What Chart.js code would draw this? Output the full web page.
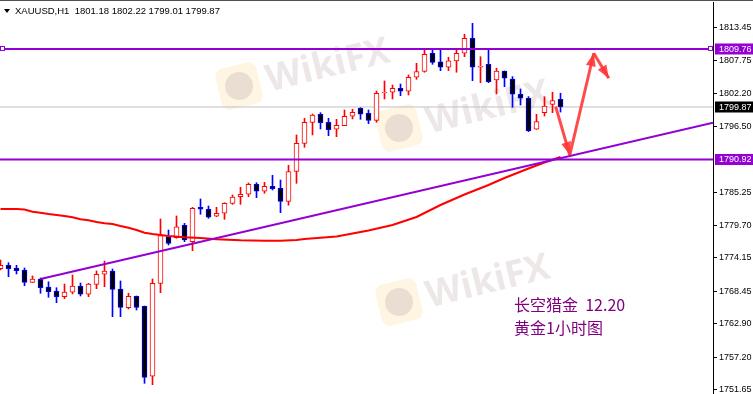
<!DOCTYPE html>
<html>
<head>
<meta charset="utf-8">
<script src="https://cdn.jsdelivr.net/npm/chart.js@4.4.0/dist/chart.umd.min.js"></script>
<style>
  body { margin:0; background:#fff; }
  canvas { display:block; }
</style>
</head>
<body>
<canvas id="grafico" width="753" height="394"></canvas>
<script>
// velas H1 XAUUSD
var opens  = [1772.30,1772.88,1772.42,1772.08,1769.98,1770.55,1769.18,1768.50,1767.53,1768.28,
              1769.35,1767.94,1769.64,1771.35,1771.91,1768.84,1765.65,1767.60,1765.89,1754.00,
              1769.81,1777.76,1777.59,1779.70,1776.91,1782.77,1782.43,1781.24,1781.75,1783.45,
              1784.58,1784.99,1786.69,1785.50,1786.35,1786.01,1783.79,1788.87,1793.68,1797.26,
              1798.63,1797.26,1796.07,1796.68,1798.29,1799.65,1798.80,1797.60,1802.26,1802.38,
              1803.06,1802.55,1804.94,1805.92,1809.03,1807.59,1806.64,1807.72,1809.03,1811.58,
              1806.64,1807.15,1804.48,1806.01,1804.65,1802.04,1801.36,1796.07,1798.90,1800.33,
              1801.18];
var highs  = [1773.79,1773.33,1772.88,1772.42,1771.06,1770.72,1770.08,1769.06,1769.69,1771.23,
              1769.86,1769.81,1771.91,1773.61,1772.25,1770.21,1768.11,1767.65,1765.94,1770.55,
              1780.78,1778.90,1781.29,1780.04,1782.77,1784.19,1782.99,1782.77,1783.55,1784.87,
              1786.18,1786.91,1786.96,1787.03,1788.23,1787.42,1789.93,1795.10,1797.95,1798.68,
              1798.90,1797.95,1797.77,1799.36,1799.48,1799.75,1799.36,1802.60,1804.31,1803.62,
              1803.79,1805.33,1807.32,1809.68,1809.59,1809.71,1808.35,1809.71,1812.27,1814.14,
              1808.45,1809.71,1806.47,1806.01,1805.04,1802.94,1801.63,1798.63,1801.63,1802.38,
              1802.22];
var lows   = [1772.08,1770.94,1771.40,1769.40,1769.95,1768.11,1767.43,1766.51,1767.19,1768.00,
              1767.65,1767.53,1768.89,1769.23,1764.12,1764.12,1765.43,1765.26,1752.76,1752.52,
              1768.21,1776.34,1777.49,1776.91,1775.37,1781.58,1780.89,1781.17,1780.72,1783.28,
              1783.28,1784.58,1784.41,1785.16,1785.72,1781.85,1783.12,1786.86,1793.00,1795.10,
              1796.12,1794.98,1794.81,1796.68,1797.83,1797.77,1797.02,1797.26,1801.24,1801.24,
              1801.80,1801.92,1804.59,1805.79,1807.15,1806.06,1806.06,1805.79,1808.45,1804.36,
              1804.02,1804.02,1802.09,1803.33,1799.82,1800.21,1795.66,1796.07,1798.34,1798.90,
              1799.01];
var closes = [1772.88,1772.30,1771.96,1769.98,1770.55,1769.06,1768.38,1767.53,1768.33,1769.35,
              1767.94,1769.69,1771.35,1771.91,1768.79,1765.72,1767.60,1765.72,1753.78,1769.81,
              1777.93,1776.63,1779.46,1777.20,1782.60,1782.43,1781.07,1781.75,1783.45,1784.53,
              1784.99,1786.69,1785.50,1786.35,1785.94,1783.79,1788.87,1793.68,1797.26,1798.51,
              1797.19,1796.00,1796.75,1798.29,1798.97,1798.63,1797.60,1802.21,1802.43,1803.06,
              1802.55,1804.94,1805.92,1808.86,1807.49,1806.64,1807.72,1809.03,1811.58,1806.64,
              1806.74,1804.19,1806.01,1804.77,1802.04,1801.36,1795.83,1797.37,1800.04,1800.95,
              1799.87];

// media movil (indice de vela, precio)
var maX = [0,2,3,4,5,6,7,8,9,10,11,12,13,14,15,16,17,18,19,20,21,23,25,27,30,33,35,37,38,42,46,49,52,55,58,61,63,66,68,70];
var maY = [1782.48,1782.48,1782.40,1782.02,1781.85,1781.63,1781.46,1781.29,1781.07,1780.72,
           1780.55,1780.26,1780.04,1779.92,1779.58,1779.29,1778.90,1778.44,1778.22,1778.05,
           1777.88,1777.66,1777.54,1777.32,1777.14,1777.08,1777.08,1777.20,1777.37,1777.79,
           1778.82,1779.75,1781.12,1783.16,1784.95,1786.57,1787.77,1789.39,1790.41,1791.35];

var yTicks = [1813.45,1807.75,1802.20,1796.50,1785.25,1779.70,1774.15,1768.45,1762.90,1757.20,1751.65];
var niveles = [1809.76, 1790.92];
var ultimoPrecio = 1799.87;
var tendencia = [{x:5, y:1770.55}, {x:89.0625, y:1797.19}];
var flechas = [{x:69.4, y:1799.92}, {x:71.16, y:1791.69}, {x:74.16, y:1809.03}, {x:76.04, y:1804.77}];
var titulo = "XAUUSD,H1  1801.18 1802.22 1799.01 1799.87";
var nota1 = "长空猎金  12.20";
var nota2 = "黄金1小时图";

var xMin = -0.0625, xMax = 89.0625;
var yMin = 1750.94, yMax = 1817.77;

var ROJO = "#ff0000", AZUL = "#0000ff", VIOLETA = "#9400d3";

var cuerpos = [], mechas = [], fondo = [], borde = [], colMecha = [];
for (var i = 0; i < opens.length; i++) {
    var alcista = closes[i] >= opens[i];
    cuerpos.push({x:i, y:[opens[i], closes[i]]});
    mechas.push({x:i, y:[lows[i], highs[i]]});
    fondo.push(alcista ? "#ffffff" : "#000000");
    borde.push(alcista ? ROJO : AZUL);
    colMecha.push(alcista ? ROJO : AZUL);
}
var media = maX.map(function(x, k){ return {x:x, y:maY[k]}; });

function lineaH(v){ return [{x:xMin, y:v}, {x:xMax, y:v}]; }

function marcaAgua(ctx, x, y){
    ctx.save();
    ctx.translate(x, y);
    ctx.rotate(-0.24);
    ctx.fillStyle = "rgba(252,226,176,0.35)";
    ctx.beginPath();
    ctx.roundRect(-21, -21, 42, 42, 8);
    ctx.fill();
    ctx.fillStyle = "rgba(205,185,185,0.40)";
    ctx.beginPath();
    ctx.arc(0, 0, 14, 0, Math.PI*2);
    ctx.fill();
    ctx.fillStyle = "rgba(190,165,165,0.27)";
    ctx.font = "bold 37px 'Open Sans'";
    ctx.textBaseline = "middle";
    ctx.fillText("WikiFX", 28, 2);
    ctx.restore();
}

function etiqueta(ctx, y, texto, color){
    ctx.fillStyle = color;
    ctx.fillRect(715, y - 5.5, 38, 11);
    ctx.fillStyle = "#ffffff";
    ctx.font = "9px 'Liberation Sans'";
    ctx.textBaseline = "middle";
    ctx.fillText(texto, 719, y + 0.5);
}

function punta(ctx, a, b){
    var ang = Math.atan2(b.y - a.y, b.x - a.x);
    ctx.beginPath();
    ctx.moveTo(b.x, b.y);
    ctx.lineTo(b.x - 13*Math.cos(ang) + 5*Math.sin(ang), b.y - 13*Math.sin(ang) - 5*Math.cos(ang));
    ctx.lineTo(b.x - 13*Math.cos(ang) - 5*Math.sin(ang), b.y - 13*Math.sin(ang) + 5*Math.cos(ang));
    ctx.closePath();
    ctx.fill();
}

var extras = {
    id: "extras",
    beforeDatasetsDraw: function(chart){
        var ctx = chart.ctx;
        marcaAgua(ctx, 239, 86);
        marcaAgua(ctx, 399, 128);
        marcaAgua(ctx, 399, 302);
    },
    afterDatasetsDraw: function(chart){
        var ctx = chart.ctx, xs = chart.scales.x, ys = chart.scales.y;
        var p = flechas.map(function(f){ return {x:xs.getPixelForValue(f.x), y:ys.getPixelForValue(f.y)}; });
        ctx.save();
        ctx.strokeStyle = "rgba(255,55,55,0.9)";
        ctx.fillStyle = "rgba(255,55,55,0.9)";
        ctx.lineWidth = 3;
        for (var k = 0; k < p.length - 1; k++) {
            ctx.beginPath();
            ctx.moveTo(p[k].x, p[k].y);
            ctx.lineTo(p[k+1].x, p[k+1].y);
            ctx.stroke();
            punta(ctx, p[k], p[k+1]);
        }
        // cuadritos del objeto seleccionado
        var yl = ys.getPixelForValue(niveles[0]);
        ctx.strokeStyle = VIOLETA;
        ctx.lineWidth = 1;
        ctx.fillStyle = "#ffffff";
        ctx.fillRect(0.5, yl - 2.5, 4, 4);
        ctx.strokeRect(0.5, yl - 2.5, 4, 4);
        ctx.fillRect(708.5, yl - 2.5, 4, 4);
        ctx.strokeRect(708.5, yl - 2.5, 4, 4);
        ctx.restore();
    },
    afterDraw: function(chart){
        var ctx = chart.ctx, ys = chart.scales.y;
        ctx.save();
        ctx.fillStyle = "#505050";
        ctx.fillRect(0, 0, 753, 1);
        ctx.fillStyle = "#000000";
        ctx.beginPath();
        ctx.moveTo(4, 9); ctx.lineTo(10, 9); ctx.lineTo(7, 13); ctx.closePath();
        ctx.fill();
        ctx.font = "9.5px 'Liberation Sans'";
        ctx.textBaseline = "middle";
        ctx.fillText(titulo, 15, 11.5);
        etiqueta(ctx, ys.getPixelForValue(niveles[0]), niveles[0].toFixed(2), VIOLETA);
        etiqueta(ctx, ys.getPixelForValue(niveles[1]), niveles[1].toFixed(2), VIOLETA);
        etiqueta(ctx, ys.getPixelForValue(ultimoPrecio), ultimoPrecio.toFixed(2), "#000000");
        ctx.fillStyle = "#800080";
        ctx.font = "16px 'Noto Sans CJK SC'";
        ctx.fillText(nota1, 514, 305);
        ctx.fillText(nota2, 514, 328);
        ctx.restore();
    }
};

new Chart(document.getElementById("grafico"), {
    type: "bar",
    data: {
        datasets: [
            { type:"line", data: lineaH(niveles[0]), borderColor: VIOLETA, borderWidth: 2, pointRadius: 0 },
            { type:"line", data: lineaH(niveles[1]), borderColor: VIOLETA, borderWidth: 2, pointRadius: 0 },
            { type:"line", data: tendencia, borderColor: VIOLETA, borderWidth: 2, pointRadius: 0 },
            { type:"line", data: media, borderColor: ROJO, borderWidth: 2, pointRadius: 0 },
            { data: cuerpos, backgroundColor: fondo, borderColor: borde, borderWidth: 1,
              borderSkipped: false, barThickness: 5, minBarLength: 1, grouped: false },
            { data: mechas, backgroundColor: colMecha, borderWidth: 0, barThickness: 1, grouped: false },
            { type:"line", data: lineaH(ultimoPrecio), borderColor: "#c0c0c0", borderWidth: 1, pointRadius: 0 }
        ]
    },
    options: {
        responsive: false,
        animation: false,
        events: [],
        layout: { padding: { top: 2, left: 0, right: 0, bottom: 0 } },
        plugins: { legend: { display: false }, tooltip: { enabled: false } },
        scales: {
            x: { type: "linear", display: false, min: xMin, max: xMax, offset: false },
            y: {
                position: "right", min: yMin, max: yMax,
                afterBuildTicks: function(axis){ axis.ticks = yTicks.map(function(v){ return {value:v}; }); },
                afterFit: function(axis){ axis.width = 40; axis.paddingTop = 0; axis.paddingBottom = 0; },
                ticks: { autoSkip: false, padding: 2, color: "#000",
                         font: { family: "Liberation Sans", size: 9 },
                         callback: function(v){ return Number(v).toFixed(2); } },
                grid: { drawOnChartArea: false, drawTicks: true, tickLength: 4, color: "#000" },
                border: { display: true, color: "#000" }
            }
        }
    },
    plugins: [extras]
});
</script>
</body>
</html>
